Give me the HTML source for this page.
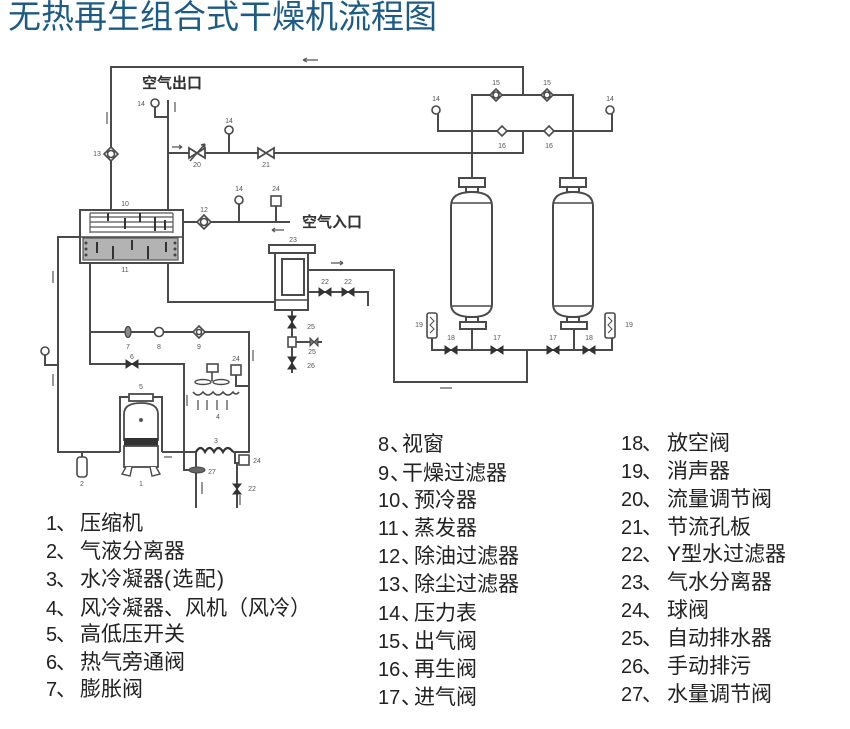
<!DOCTYPE html>
<html><head><meta charset="utf-8">
<style>
html,body{margin:0;padding:0;background:#fff;}
svg{display:block;}
.p{fill:none;stroke:#4a4a4a;stroke-width:2;}
.t{stroke:#4a4a4a;stroke-width:1.6;}
.n{font-family:"Liberation Sans",sans-serif;font-size:7px;fill:#555;text-anchor:middle;}
.lg{font-family:"Liberation Sans","Noto Sans CJK SC",sans-serif;font-size:21px;fill:#222;}
.dg{font-family:"Liberation Sans",sans-serif;font-size:20px;fill:#222;}
.cn{font-family:"Liberation Sans","Noto Sans CJK SC",sans-serif;font-size:15px;fill:#333;font-weight:bold;}
</style></head><body>
<svg width="850" height="729" viewBox="0 0 850 729" xmlns="http://www.w3.org/2000/svg">
<rect width="850" height="729" fill="#fff"/>
<text x="8" y="28" style="font-family:'Liberation Sans','Noto Sans CJK SC',sans-serif;font-size:33px;fill:#1d5b85;">无热再生组合式干燥机流程图</text>

<!-- main pipes -->
<path class="p" d="M111,210 V67 H523 V95"/>
<path class="p" d="M168,100 V210"/>
<path class="p" d="M155,107 V117 H168"/>
<path class="p" d="M168,153 H523 V131"/>
<path class="p" d="M229,134 V153"/>
<path class="p" d="M183,222 H290"/>
<path class="p" d="M239,204 V222"/>
<path class="p" d="M276,206 V222"/>
<path class="p" d="M80,237 H58 V452 H120"/>
<path class="p" d="M45,355 V365 H58"/>
<path class="p" d="M82,452 V457"/>
<path class="p" d="M90,263 V364 H184 V470 H202"/>
<path class="p" d="M90,332 H249 V452 H233"/>
<path class="p" d="M162,452 H197"/>
<path class="p" d="M196,452 V508"/>
<path class="p" d="M235,452 V463 H240"/>
<path class="p" d="M237,463 V508"/>
<path class="p" d="M236,375 V386 H249"/>
<path class="p" d="M168,263 V302 H275"/>
<path class="p" d="M308,270 H394 V382 H527 V350"/>
<path class="p" d="M308,292 H368 V306"/>
<path class="p" d="M292,310 V373"/>
<path class="p" d="M296,342 H322"/>

<!-- right towers piping -->
<path class="p" d="M472,178 V95 H573 V178"/>
<path class="p" d="M438,114 V131 H612 V114"/>
<path class="p" d="M432,338 V350 H612 V338"/>
<path class="p" d="M472,329 V350"/>
<path class="p" d="M574,329 V350"/>

<!-- towers -->
<g fill="#fff" stroke="#4a4a4a" stroke-width="2">
<rect x="459" y="178" width="26" height="9"/>
<rect x="466" y="187" width="12" height="5"/>
<path d="M451,206 Q451,192 472,192 Q492,192 492,206 V304 Q492,317 472,317 Q451,317 451,304 Z"/>
<rect x="466" y="317" width="12" height="5"/>
<rect x="460" y="322" width="26" height="7"/>
<rect x="560" y="178" width="26" height="9"/>
<rect x="567" y="187" width="12" height="5"/>
<path d="M553,206 Q553,192 573,192 Q593,192 593,206 V304 Q593,317 573,317 Q553,317 553,304 Z"/>
<rect x="567" y="317" width="12" height="5"/>
<rect x="561" y="322" width="26" height="7"/>
</g>
<path stroke="#4a4a4a" stroke-width="1.5" d="M452,203 H491 M452,306 H491 M554,203 H592 M554,306 H592"/>

<!-- silencers 19 -->
<g fill="#fff" stroke="#4a4a4a" stroke-width="1.6">
<rect x="427" y="313" width="10" height="25" rx="2"/>
<rect x="605" y="313" width="10" height="25" rx="2"/>
</g>
<path fill="none" stroke="#4a4a4a" stroke-width="1" d="M430,317 L434,321 L430,325 L434,329 L430,333 M608,317 L612,321 L608,325 L612,329 L608,333"/>

<!-- bottom valves 17/18 -->
<g fill="#333" stroke="#333" stroke-width="1">
<polygon points="445,346 457,354 457,346 445,354"/>
<polygon points="491,346 503,354 503,346 491,354"/>
<polygon points="547,346 559,354 559,346 547,354"/>
<polygon points="583,346 595,354 595,346 583,354"/>
</g>

<!-- valves 15 and 16 -->
<g fill="#fff" stroke="#4a4a4a" stroke-width="1.6">
<polygon points="496,89 502,95 496,101 490,95"/>
<polygon points="547,89 553,95 547,101 541,95"/>
<polygon points="502,126 507,131 502,136 497,131"/>
<polygon points="549,126 554,131 549,136 544,131"/>
<circle cx="496" cy="95" r="3"/>
<circle cx="547" cy="95" r="3"/>
<!-- gauges -->
<circle cx="436" cy="110" r="4"/>
<circle cx="610" cy="110" r="4"/>
<circle cx="155" cy="103" r="4"/>
<circle cx="229" cy="130" r="4"/>
<circle cx="239" cy="200" r="4"/>
<circle cx="45" cy="351" r="4"/>
<rect x="271" y="196" width="10" height="10"/>
<!-- filter 13 -->
<polygon points="111,147 118,154 111,161 104,154"/>
<circle cx="111" cy="154" r="3.5"/>
<!-- filter 12 -->
<polygon points="204,215 211,222 204,229 197,222"/>
<circle cx="204" cy="222" r="3.5"/>
<!-- 8,9 -->
<circle cx="159" cy="332" r="4.5"/>
<polygon points="199,326 205,332 199,338 193,332"/>
<circle cx="199" cy="332" r="2.5"/>
<!-- separator 2 -->
<rect x="77" y="457" width="10" height="20" rx="3"/>
<!-- 24 near fan -->
<rect x="231" y="365" width="10" height="10"/>
<!-- 24 near condenser -->
<rect x="239" y="455" width="10" height="10"/>
</g>

<!-- valves 20 & 21 -->
<g fill="#fff" stroke="#4a4a4a" stroke-width="1.8">
<polygon points="189,148 205,158 205,148 189,158"/>
<polygon points="258,148 274,158 274,148 258,158"/>
</g>
<path stroke="#4a4a4a" stroke-width="1.5" d="M190,161 L205,144 M205,144 l-4,1 M205,144 l-1,4"/>

<!-- box 10/11 -->
<rect x="80" y="210" width="103" height="53" fill="#fff" stroke="#4a4a4a" stroke-width="2"/>
<path stroke="#4a4a4a" stroke-width="1.5" d="M80,237 H183"/>
<path stroke="#555" stroke-width="1.2" d="M90,213 H173 M90,217 H173 M90,222 H173 M90,227 H173 M90,232 H173 M90,213 V233 M173,213 V233"/>
<path stroke="#333" stroke-width="2" d="M108,213 V221 M125,218 V229 M140,213 V222 M155,217 V231 M165,220 V230"/>
<rect x="83" y="238" width="95" height="22" fill="#b3b3b3" stroke="#555" stroke-width="1.2"/>
<g fill="#444">
<circle cx="86" cy="243" r="1.5"/><circle cx="86" cy="249" r="1.5"/><circle cx="86" cy="255" r="1.5"/>
<circle cx="175" cy="243" r="1.5"/><circle cx="175" cy="249" r="1.5"/><circle cx="175" cy="255" r="1.5"/>
</g>
<path stroke="#333" stroke-width="2" d="M97,242 V253 M113,246 V259 M132,240 V250 M148,246 V259 M166,242 V252"/>

<!-- separator 23 -->
<g fill="#fff" stroke="#4a4a4a" stroke-width="2">
<rect x="269" y="245" width="46" height="8"/>
<rect x="275" y="253" width="33" height="57"/>
<rect x="282" y="259" width="22" height="36"/>
</g>
<path stroke="#4a4a4a" stroke-width="1.5" d="M275,300 H308"/>
<g fill="#333" stroke="#333" stroke-width="1">
<polygon points="319,288 331,296 331,288 319,296"/>
<polygon points="342,288 354,296 354,288 342,296"/>
<polygon points="288,316 296,328 288,328 296,316"/>
<polygon points="288,357 296,369 288,369 296,357"/>
</g>
<rect x="288" y="337" width="8" height="10" fill="#fff" stroke="#4a4a4a" stroke-width="1.6"/>
<polygon points="310,338 318,346 318,338 310,346" fill="#777" stroke="#444" stroke-width="1"/>

<!-- expansion 7, bypass 6 -->
<ellipse cx="128" cy="332" rx="3" ry="5.5" fill="#888" stroke="#444" stroke-width="1.2"/>
<polygon points="126,360 138,368 138,360 126,368" fill="#333" stroke="#333"/>

<!-- fan 4 -->
<rect x="207" y="364" width="11" height="8" fill="#fff" stroke="#4a4a4a" stroke-width="1.6"/>
<path stroke="#4a4a4a" stroke-width="1.6" d="M212,372 V381"/>
<ellipse cx="203" cy="382" rx="8" ry="2.5" fill="#fff" stroke="#4a4a4a" stroke-width="1.4"/>
<ellipse cx="221" cy="382" rx="8" ry="2.5" fill="#fff" stroke="#4a4a4a" stroke-width="1.4"/>
<path fill="none" stroke="#4a4a4a" stroke-width="1.6" d="M193,392 q5,6 10,0 q5,6 10,0 q5,6 10,0 q5,6 10,0 q3,4 6,0"/>
<path stroke="#555" stroke-width="1.3" d="M198,400 V410 M207,400 V410 M217,400 V410 M227,400 V410"/>

<!-- condenser 3 coil -->
<path fill="none" stroke="#333" stroke-width="2.2" d="M196,452 q4.5,-8 9,0 q4.5,-8 9,0 q4.5,-8 9,0 q4.5,-8 10,0"/>

<!-- 27, 22 -->
<ellipse cx="197" cy="470" rx="8" ry="3" fill="#666" stroke="#444" stroke-width="1"/>
<polygon points="233,484 241,494 233,494 241,484" fill="#333" stroke="#333"/>

<!-- compressor -->
<path class="p" d="M120,452 V397 H162 V452"/>
<rect x="129" y="394" width="24" height="7" fill="#fff" stroke="#4a4a4a" stroke-width="1.8"/>
<path d="M124,440 V414 Q124,403 141,403 Q158,403 158,414 V440 Z" fill="#fff" stroke="#4a4a4a" stroke-width="1.8"/>
<rect x="124" y="438" width="34" height="8" fill="#333"/>
<rect x="124" y="446" width="34" height="21" fill="#fff" stroke="#4a4a4a" stroke-width="1.8"/>
<circle cx="141" cy="420" r="2" fill="#555"/>
<path fill="#fff" stroke="#4a4a4a" stroke-width="1.4" d="M126,467 L122,474 L130,476 L132,467 M150,467 L152,476 L160,474 L156,467"/>

<!-- small flow arrows -->
<g stroke="#555" stroke-width="1.2" fill="none">
<path d="M303,60 H318 M303,60 l4,-2 M303,60 l4,2"/>
<path d="M172,147 H182 M182,147 l-3,-2 M182,147 l-3,2"/>
<path d="M107,112 V124"/>
<path d="M175,102 V112"/>
<path d="M272,230 H284 M272,230 l3,-2 M272,230 l3,2"/>
<path d="M331,263 H343 M343,263 l-3,-2 M343,263 l-3,2"/>
<path d="M53,271 V283"/>
<path d="M53,374 V386"/>
<path d="M253,350 V361"/>
<path d="M187,395 V406"/>
<path d="M202,482 V494"/>
<path d="M240,495 V505"/>
<path d="M440,388 H452"/>
<path d="M164,457 H172"/>
</g>

<!-- diagram text labels -->
<text class="cn" x="142" y="88">空气出口</text>
<text class="cn" x="302" y="227">空气入口</text>

<g class="n">
<text x="141" y="106">14</text>
<text x="97" y="156">13</text>
<text x="197" y="167">20</text>
<text x="229" y="123">14</text>
<text x="266" y="167">21</text>
<text x="125" y="206">10</text>
<text x="125" y="272">11</text>
<text x="204" y="212">12</text>
<text x="239" y="191">14</text>
<text x="276" y="191">24</text>
<text x="293" y="242">23</text>
<text x="325" y="284">22</text>
<text x="348" y="284">22</text>
<text x="311" y="329">25</text>
<text x="312" y="354">25</text>
<text x="311" y="368">26</text>
<text x="128" y="349">7</text>
<text x="159" y="349">8</text>
<text x="199" y="349">9</text>
<text x="132" y="359">6</text>
<text x="236" y="361">24</text>
<text x="218" y="419">4</text>
<text x="141" y="389">5</text>
<text x="216" y="443">3</text>
<text x="82" y="486">2</text>
<text x="141" y="486">1</text>
<text x="257" y="463">24</text>
<text x="212" y="474">27</text>
<text x="252" y="491">22</text>
<text x="496" y="85">15</text>
<text x="547" y="85">15</text>
<text x="436" y="101">14</text>
<text x="610" y="101">14</text>
<text x="502" y="148">16</text>
<text x="549" y="148">16</text>
<text x="451" y="340">18</text>
<text x="497" y="340">17</text>
<text x="553" y="340">17</text>
<text x="589" y="340">18</text>
<text x="419" y="327">19</text>
<text x="629" y="327">19</text>
</g>

<!-- legend left -->
<g>
<text class="dg" x="46" y="530">1</text><text class="lg" x="56" y="530">、</text><text class="lg" x="80" y="530">压缩机</text>
<text class="dg" x="46" y="558">2</text><text class="lg" x="56" y="558">、</text><text class="lg" x="80" y="558">气液分离器</text>
<text class="dg" x="46" y="586">3</text><text class="lg" x="56" y="586">、</text><text class="lg" x="80" y="586">水冷凝器</text><text class="lg" x="164" y="586" textLength="60">(选配)</text>
<text class="dg" x="46" y="615">4</text><text class="lg" x="56" y="615">、</text><text class="lg" x="80" y="615">风冷凝器、风机（风冷）</text>
<text class="dg" x="46" y="641">5</text><text class="lg" x="56" y="641">、</text><text class="lg" x="80" y="641">高低压开关</text>
<text class="dg" x="46" y="669">6</text><text class="lg" x="56" y="669">、</text><text class="lg" x="80" y="669">热气旁通阀</text>
<text class="dg" x="46" y="696">7</text><text class="lg" x="56" y="696">、</text><text class="lg" x="80" y="696">膨胀阀</text>
</g>

<!-- legend middle -->
<g>
<text class="dg" x="378" y="451">8</text><text class="lg" x="390" y="451">、</text><text class="lg" x="402" y="451">视窗</text>
<text class="dg" x="378" y="480">9</text><text class="lg" x="390" y="480">、</text><text class="lg" x="402" y="480">干燥过滤器</text>
<text class="dg" x="378" y="507">10</text><text class="lg" x="401" y="507">、</text><text class="lg" x="414" y="507">预冷器</text>
<text class="dg" x="378" y="535">11</text><text class="lg" x="401" y="535">、</text><text class="lg" x="414" y="535">蒸发器</text>
<text class="dg" x="378" y="563">12</text><text class="lg" x="401" y="563">、</text><text class="lg" x="414" y="563">除油过滤器</text>
<text class="dg" x="378" y="591">13</text><text class="lg" x="401" y="591">、</text><text class="lg" x="414" y="591">除尘过滤器</text>
<text class="dg" x="378" y="620">14</text><text class="lg" x="401" y="620">、</text><text class="lg" x="414" y="620">压力表</text>
<text class="dg" x="378" y="648">15</text><text class="lg" x="401" y="648">、</text><text class="lg" x="414" y="648">出气阀</text>
<text class="dg" x="378" y="676">16</text><text class="lg" x="401" y="676">、</text><text class="lg" x="414" y="676">再生阀</text>
<text class="dg" x="378" y="704">17</text><text class="lg" x="401" y="704">、</text><text class="lg" x="414" y="704">进气阀</text>
</g>

<!-- legend right -->
<g>
<text class="dg" x="621" y="450">18</text><text class="lg" x="642" y="450">、</text><text class="lg" x="667" y="450">放空阀</text>
<text class="dg" x="621" y="478">19</text><text class="lg" x="642" y="478">、</text><text class="lg" x="667" y="478">消声器</text>
<text class="dg" x="621" y="506">20</text><text class="lg" x="642" y="506">、</text><text class="lg" x="667" y="506">流量调节阀</text>
<text class="dg" x="621" y="534">21</text><text class="lg" x="642" y="534">、</text><text class="lg" x="667" y="534">节流孔板</text>
<text class="dg" x="621" y="561">22</text><text class="lg" x="642" y="561">、</text><text class="lg" x="667" y="561">Y型水过滤器</text>
<text class="dg" x="621" y="589">23</text><text class="lg" x="642" y="589">、</text><text class="lg" x="667" y="589">气水分离器</text>
<text class="dg" x="621" y="617">24</text><text class="lg" x="642" y="617">、</text><text class="lg" x="667" y="617">球阀</text>
<text class="dg" x="621" y="645">25</text><text class="lg" x="642" y="645">、</text><text class="lg" x="667" y="645">自动排水器</text>
<text class="dg" x="621" y="673">26</text><text class="lg" x="642" y="673">、</text><text class="lg" x="667" y="673">手动排污</text>
<text class="dg" x="621" y="701">27</text><text class="lg" x="642" y="701">、</text><text class="lg" x="667" y="701">水量调节阀</text>
</g>
</svg>
</body></html>
